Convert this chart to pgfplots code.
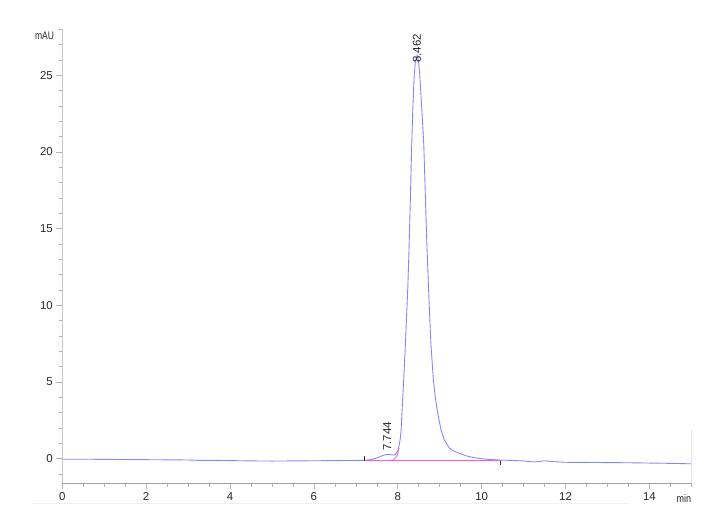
\documentclass[border=0pt]{standalone}
\usepackage{pgfplots}
\pgfplotsset{compat=1.18}
\usepackage{fontspec}
\usepackage{graphicx}
\setmainfont{Liberation Sans}
\definecolor{trace}{RGB}{135,135,252}
\definecolor{integ}{RGB}{250,90,220}
\definecolor{labelgray}{RGB}{40,40,40}

\begin{document}
\begin{tikzpicture}
\useasboundingbox (-62.3bp,-44.7bp) rectangle (657.7bp,483.3bp);
\begin{axis}[
    scale only axis,
    width=629bp, height=454bp,
    xmin=0, xmax=15,
    ymin=-1.6, ymax=28,
    axis x line=bottom, axis y line=left,
    x axis line style={-, draw=gray!75, line width=1.1pt},
    y axis line style={-, draw=gray!45, line width=0.7pt},
    xtick={0,2,...,14},
    minor xtick={0,0.5,...,15},
    ytick={0,5,...,25},
    minor ytick={-1,0,...,28},
    tick align=outside,
    major tick length=6bp,
    minor tick length=3.5bp,
    every tick/.style={draw=gray!60, line width=0.6pt},
    tick label style={font=\fontsize{11.5}{13}\selectfont, text=labelgray},
    /pgf/number format/assume math mode=true,
    clip=false,
]
\addplot[trace, line width=0.9pt] coordinates {
(0,-0.03) (0.5,-0.03) (1,-0.04) (1.5,-0.05) (2,-0.06) (2.5,-0.07) (3,-0.08)
(3.3,-0.11) (3.6,-0.1) (4,-0.12) (4.5,-0.14) (5,-0.15) (5.5,-0.14) (6,-0.13)
(6.5,-0.12) (7,-0.11) (7.2,-0.1) (7.35,-0.06) (7.5,0.05) (7.6,0.17) (7.7,0.26)
(7.77,0.29) (7.84,0.26) (7.9,0.24) (7.95,0.3) (8.0,0.5) (8.03,0.85) (8.06,1.3)
(8.08,1.9) (8.10,3.0) (8.14,5.1) (8.18,7.3) (8.21,9.3) (8.24,11.2) (8.27,13.8)
(8.30,16.9) (8.33,20.2) (8.36,22.9) (8.39,24.9) (8.42,25.9) (8.462,26.3)
(8.49,26.0) (8.52,25.2) (8.56,23.4) (8.59,22.0) (8.62,20.5) (8.66,17.0)
(8.69,14.3) (8.72,12.1) (8.75,10.0) (8.79,7.5) (8.85,5.1) (8.90,3.9) (8.95,3.0)
(9.03,1.9) (9.11,1.23) (9.23,0.70) (9.35,0.48) (9.47,0.36) (9.6,0.22) (9.7,0.14)
(9.85,0.06) (10.0,0.0) (10.2,-0.05) (10.5,-0.09) (10.8,-0.12) (11.0,-0.14)
(11.15,-0.19) (11.3,-0.2) (11.45,-0.15) (11.55,-0.14) (11.7,-0.19) (12.0,-0.23)
(12.5,-0.24) (13,-0.25) (13.5,-0.26) (14,-0.28) (14.5,-0.3) (15,-0.33)
};
% integration baseline
\addplot[integ, line width=0.8pt] coordinates {(7.2,-0.12) (10.45,-0.12)};
\addplot[integ, line width=0.8pt] coordinates {(7.82,-0.11) (7.9,-0.07) (7.96,0.1) (8.0,0.35) (8.03,0.7)};
% peak start / end marks
\addplot[labelgray, line width=0.5pt] coordinates {(7.2,-0.12) (7.2,0.15)};
\addplot[labelgray, line width=0.5pt] coordinates {(10.45,-0.12) (10.45,-0.4)};
% faint frame remnants
\draw[gray!20, line width=0.6pt] (axis cs:15,-1.6) -- (axis cs:15,1.9);
\draw[gray!12, line width=0.6pt] (axis cs:-0.72,-2.88) -- (axis cs:13.52,-2.88);
% peak labels
\node[rotate=90, anchor=west, inner sep=0pt, text=labelgray, font=\fontsize{11.5}{13}\selectfont]
  at (axis cs:8.455,25.8) {8.462};
\node[rotate=90, anchor=west, inner sep=0pt, text=labelgray, font=\fontsize{11.5}{13}\selectfont]
  at (axis cs:7.75,0.5) {7.744};
% units
\node[anchor=east, inner sep=0pt, text=labelgray, font=\fontsize{11}{13}\selectfont]
  at ([xshift=-8bp,yshift=-6.7bp]rel axis cs:0,1) {\scalebox{0.78}[1]{mAU}};
\node[anchor=east, inner sep=0pt, text=labelgray, font=\fontsize{11}{13}\selectfont]
  at ([yshift=-15.7bp]rel axis cs:1,0) {\scalebox{0.82}[1]{min}};
\end{axis}
\end{tikzpicture}
\end{document}
